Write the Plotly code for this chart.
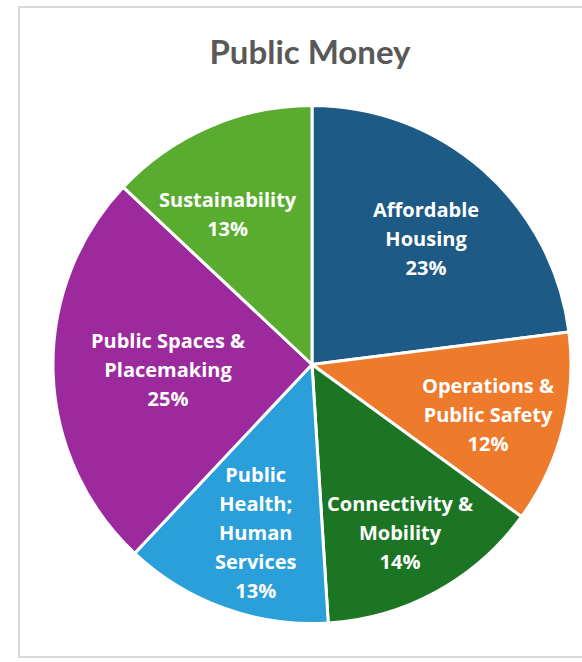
import math
import plotly.graph_objects as go

# Spending categories, clockwise from 12 o'clock
categories = [
    "Affordable<br>Housing",
    "Operations &<br>Public Safety",
    "Connectivity &<br>Mobility",
    "Public<br>Health;<br>Human<br>Services",
    "Public Spaces &<br>Placemaking",
    "Sustainability",
]
shares = [23, 12, 14, 13, 25, 13]
colors = ["#1d5a85", "#ee7a2c", "#1b7522", "#2b9fd9", "#9c2a9d", "#5aac30"]

# label placement inside each slice: (fraction of radius, angular nudge in degrees)
label_place = [(0.656, 0.7), (0.707, 1.5), (0.734, 1.2), (0.683, -1.1), (0.556, -0.2), (0.667, -5.7)]

W, H = 582, 662
cx, cy, r = 312, 364.5, 259

fig = go.Figure(
    go.Pie(
        labels=[c.replace("<br>", " ") for c in categories],
        values=shares,
        sort=False,
        direction="clockwise",
        rotation=0,
        marker=dict(colors=colors, line=dict(color="white", width=3)),
        textinfo="none",
        showlegend=False,
        hoverinfo="label+percent",
        domain=dict(
            x=[(cx - r) / W, (cx + r) / W],
            y=[1 - (cy + r) / H, 1 - (cy - r) / H],
        ),
    )
)

# white slice labels, centred on each slice's mid-angle
total = sum(shares)
start = 0.0
for cat, val, (frac, nudge) in zip(categories, shares, label_place):
    mid = (start + val / 2) / total * 360 + nudge
    start += val
    rad = math.radians(mid)
    px = cx + frac * r * math.sin(rad)
    py = cy - frac * r * math.cos(rad)
    lines = cat.split("<br>") + [f"{val}%"]
    text = "<br>".join(f"<span style='font-size:20px'>{ln}</span>" for ln in lines)
    fig.add_annotation(
        x=px / W, y=1 - py / H, xref="paper", yref="paper",
        text=text, showarrow=False, align="center",
        xanchor="center", yanchor="middle",
        font=dict(family="Open Sans", size=22.3, color="white", weight="bold"),
    )

# light grey frame around the chart area
fig.add_shape(
    type="rect", xref="paper", yref="paper",
    x0=19 / W, x1=600 / W, y0=1 - 657 / H, y1=1 - 7 / H,
    line=dict(color="#d9d9d9", width=2), layer="below",
)

fig.update_layout(
    width=W, height=H,
    margin=dict(l=0, r=0, t=0, b=0),
    paper_bgcolor="white",
    plot_bgcolor="white",
    title=dict(
        text="Public Money",
        x=310 / W, xanchor="center",
        y=1 - 52 / H, yanchor="middle",
        font=dict(family="Lato", size=33, color="#595959", weight="bold"),
    ),
)

fig.write_html("out.html")
